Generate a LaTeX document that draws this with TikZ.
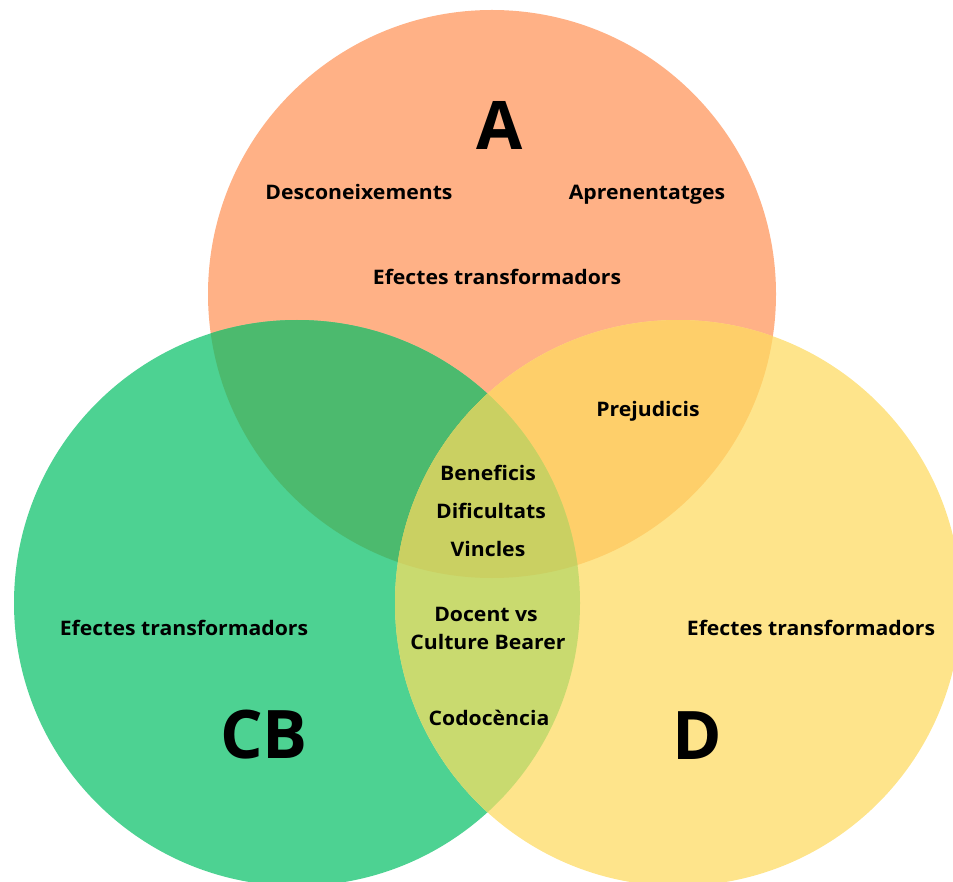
\documentclass[tikz,border=0pt]{standalone}
\usepackage{fontspec}
\setmainfont{Open Sans}
\newfontfamily\lblfont{Open Sans}[FakeStretch=1.06, UprightFont=*-Bold, BoldFont=*-Bold]
\definecolor{cA}{HTML}{FFB186}
\definecolor{cCB}{HTML}{4DD292}
\definecolor{cD}{HTML}{FEE48B}
\definecolor{cACB}{HTML}{4CBA6E}
\definecolor{cAD}{HTML}{FECF6A}
\definecolor{cCBD}{HTML}{C9DA6F}
\definecolor{cAll}{HTML}{CAD062}
\begin{document}
\begin{tikzpicture}[x=1pt,y=-1pt,
  lbl/.style={font=\bfseries\fontsize{20}{24}\selectfont, inner sep=0pt, anchor=base},
  big/.style={font=\bfseries\fontsize{67}{80}\selectfont, inner sep=0pt, anchor=base}]
\useasboundingbox (0,0) rectangle (953,882);
\clip (0,0) rectangle (953,882);
\coordinate (cenA) at (492,294);
\coordinate (cenCB) at (297,603);
\coordinate (cenD) at (678,603);
\fill[cA] (cenA) circle[radius=284pt];
\fill[cCB] (cenCB) circle[radius=283pt];
\fill[cD] (cenD) circle[radius=283pt];
\begin{scope}
  \clip (cenA) circle[radius=284pt];
  \fill[cACB] (cenCB) circle[radius=283pt];
  \fill[cAD] (cenD) circle[radius=283pt];
\end{scope}
\begin{scope}
  \clip (cenCB) circle[radius=283pt];
  \fill[cCBD] (cenD) circle[radius=283pt];
  \clip (cenA) circle[radius=284pt];
  \fill[cAll] (cenD) circle[radius=283pt];
\end{scope}
\node[big] (tA) at (500,150) {A};
\node[big] (tCB) at (264,758) {CB};
\node[big] (tD) at (697,759) {D};
\begin{scope}[lbl/.append style={font=\lblfont\fontsize{20}{24}\selectfont}]
\node[lbl] (desc) at (359,200) {Desconeixements};
\node[lbl] (apren) at (647,200) {Aprenentatges};
\node[lbl] (efA) at (497,285) {Efectes transformadors};
\node[lbl] (prej) at (648,417) {Prejudicis};
\node[lbl] (benef) at (488,480) {Beneficis};
\node[lbl] (dific) at (491,518) {Dificultats};
\node[lbl] (vinc) at (488,556) {Vincles};
\node[lbl] (doc) at (486,621) {Docent vs};
\node[lbl] (cult) at (488,649) {Culture Bearer};
\node[lbl] (codo) at (489,725) {Codocència};
\node[lbl] (efCB) at (184,635) {Efectes transformadors};
\node[lbl] (efD) at (811,635) {Efectes transformadors};
\end{scope}
\end{tikzpicture}
\end{document}
